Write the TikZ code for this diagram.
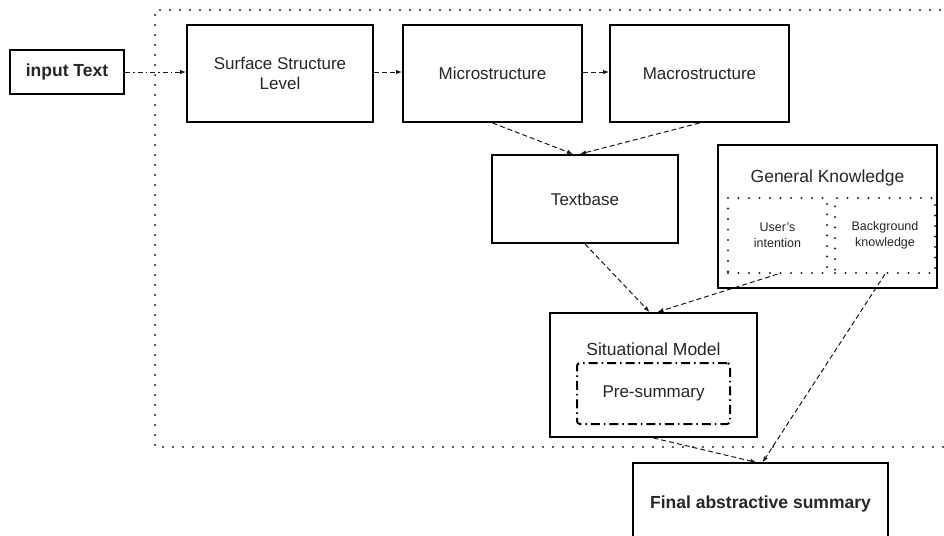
\documentclass[tikz,border=0pt]{standalone}
\usepackage{fontspec}
\setmainfont{Liberation Sans}
\usetikzlibrary{arrows.meta}
\definecolor{txt}{HTML}{262626}
\tikzset{
  box/.style={draw=black, line width=2pt, inner sep=0pt, text=txt, font=\fontsize{17}{20}\selectfont, align=center},
  thinbox/.style={draw=black, line width=1.2pt, inner sep=0pt, text=txt, font=\fontsize{17}{20}\selectfont, align=center},
  dotbox/.style={draw=black!85, line width=2.3pt, dash pattern=on 0pt off 10.5pt, line cap=round, inner sep=0pt, text=txt, font=\fontsize{12.5}{16}\selectfont, align=center},
  dashdotbox/.style={draw=black, line width=2pt, dash pattern=on 9pt off 4pt on 1.5pt off 4pt, rounded corners=3pt, inner sep=0pt, text=txt, font=\fontsize{17}{20}\selectfont, align=center},
  bigdots/.style={draw=black!85, line width=2.3pt, dash pattern=on 0pt off 10pt, line cap=round},
  conn/.style={draw=black!90, line width=1pt, dash pattern=on 5pt off 3pt, -{Latex[length=6pt,width=4.5pt]}},
  conndd/.style={draw=black!90, line width=1pt, dash pattern=on 5pt off 3pt on 1.5pt off 3pt, -{Latex[length=6pt,width=4.5pt]}},
  lbl/.style={inner sep=0pt, text=txt, font=\fontsize{17.5}{20}\selectfont}
}
\begin{document}
\begin{tikzpicture}[x=1pt,y=-1pt]
\fill[white] (0,0) rectangle (944,535);
\useasboundingbox (0,0) rectangle (944,535);
\clip (0,0) rectangle (944,535);
% big dotted region
\draw[bigdots] (960,10) -- (155,10) -- (155,447) -- (960,447);
% nodes
\node[box, minimum width=114pt, minimum height=44pt, font=\fontsize{17.5}{20}\selectfont\bfseries] (input) at (67,72) {input Text};
\node[box, minimum width=186pt, minimum height=97pt] (surface) at (280,73.5) {Surface Structure\\Level};
\node[box, minimum width=179pt, minimum height=97pt] (micro) at (492.5,73.5) {Microstructure};
\node[box, minimum width=179pt, minimum height=97pt] (macro) at (699.5,73.5) {Macrostructure};
\node[box, minimum width=186pt, minimum height=88pt] (textbase) at (585,199) {Textbase};
\node[box, minimum width=219pt, minimum height=143pt] (general) at (827.5,216.5) {};
\node[lbl] (generallbl) at (827.5,178) {General Knowledge};
\node[dotbox, minimum width=99pt, minimum height=75pt] (user) at (777.5,235.5) {User's\\intention};
\node[dotbox, minimum width=100pt, minimum height=75pt] (background) at (885,235.5) {Background\\knowledge};
\node[box, minimum width=207pt, minimum height=124pt] (situational) at (653.5,375) {};
\node[lbl] (situationallbl) at (653.5,349) {Situational Model};
\node[dashdotbox, minimum width=153pt, minimum height=61pt] (presum) at (653.5,393.5) {Pre-summary};
\node[thinbox, minimum width=255pt, minimum height=82pt, font=\fontsize{17.5}{20}\selectfont\bfseries] (final) at (760.5,504) {Final abstractive summary};
% connectors
\draw[conndd] (input.east) -- (input.east -| surface.west);
\draw[conn] (surface.east |- input.east) -- (input.east -| micro.west);
\draw[conn] (micro.east |- input.east) -- (input.east -| macro.west);
\draw[conn] (micro.south) -- ([xshift=-12pt]textbase.north);
\draw[conn] (macro.south) -- ([xshift=-5pt]textbase.north);
\draw[conn] (textbase.south) -- ([xshift=-4pt]situational.north);
\draw[conn] (user.south) -- ([xshift=4pt]situational.north);
\draw[conn] (background.south) -- ([xshift=2pt]final.north);
\draw[conn] (situational.south) -- ([xshift=-4pt]final.north);
\end{tikzpicture}
\end{document}
